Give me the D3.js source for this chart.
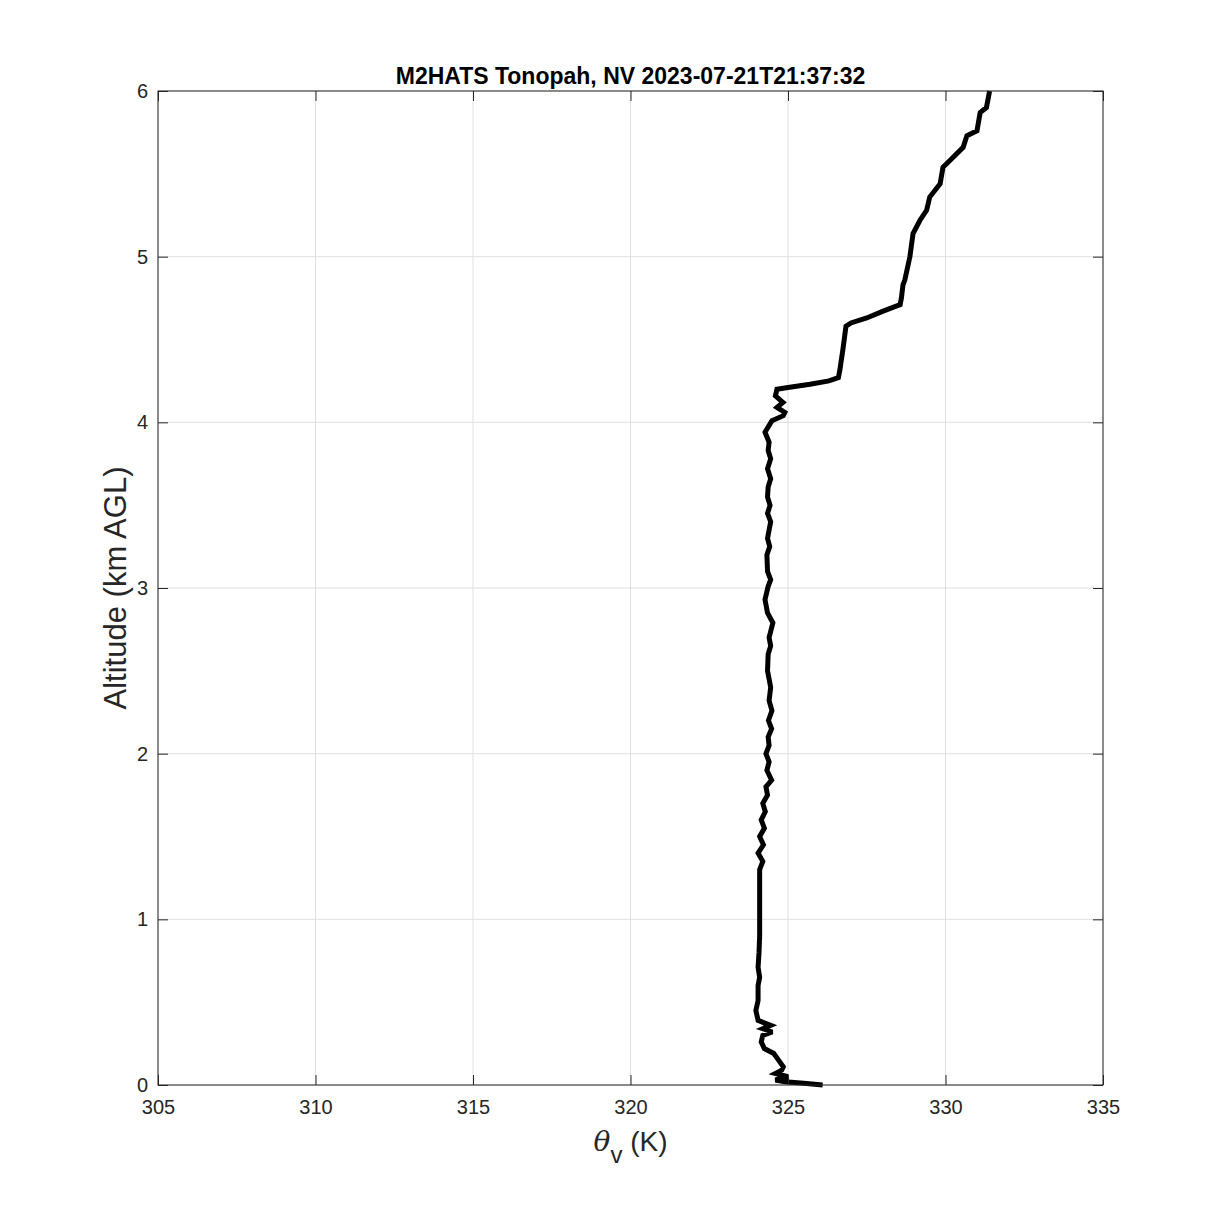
<!DOCTYPE html>
<html>
<head>
<meta charset="utf-8">
<script src="https://cdn.jsdelivr.net/npm/d3@7"></script>
<style>
    body { margin: 0; background: #fff; }
    text { font-family: "Liberation Sans", Arial, Helvetica, sans-serif; }
</style>
</head>
<body>
<div id="chart"></div>
<script>
// sounding profile: altitude (km AGL) and theta_v (K)
const altitude = [
    0.00, 0.01, 0.02, 0.03, 0.05, 0.07, 0.09, 0.11, 0.15, 0.19,
    0.22, 0.26, 0.30, 0.32, 0.34, 0.36, 0.39, 0.45, 0.51, 0.60,
    0.65, 0.71, 0.80, 0.90, 1.01, 1.10, 1.20, 1.30, 1.35, 1.40,
    1.45, 1.50, 1.55, 1.60, 1.65, 1.70, 1.75, 1.80, 1.84, 1.90,
    1.95, 2.00, 2.05, 2.10, 2.15, 2.20, 2.26, 2.32, 2.40, 2.50,
    2.60, 2.65, 2.70, 2.79, 2.85, 2.93, 3.01, 3.05, 3.10, 3.20,
    3.25, 3.30, 3.40, 3.45, 3.50, 3.55, 3.61, 3.66, 3.72, 3.78,
    3.83, 3.88, 3.94, 4.01, 4.04, 4.06, 4.09, 4.12, 4.16, 4.20,
    4.21, 4.23, 4.25, 4.27, 4.32, 4.45, 4.58, 4.60, 4.63, 4.67,
    4.71, 4.75, 4.83, 4.86, 5.00, 5.14, 5.22, 5.28, 5.36, 5.44,
    5.54, 5.58, 5.66, 5.73, 5.76, 5.87, 5.90, 6.00
];
const thetaV = [
    326.10, 325.50, 324.90, 324.60, 325.00, 324.60, 324.80, 324.85, 324.70, 324.55,
    324.25, 324.15, 324.20, 324.50, 324.20, 324.45, 324.05, 323.98, 324.05, 324.05,
    324.10, 324.05, 324.08, 324.10, 324.10, 324.10, 324.10, 324.10, 324.20, 324.05,
    324.22, 324.10, 324.25, 324.15, 324.28, 324.20, 324.35, 324.30, 324.48, 324.33,
    324.40, 324.30, 324.40, 324.37, 324.48, 324.38, 324.49, 324.40, 324.45, 324.35,
    324.37, 324.45, 324.40, 324.52, 324.35, 324.27, 324.37, 324.45, 324.35, 324.33,
    324.42, 324.35, 324.45, 324.35, 324.43, 324.35, 324.37, 324.45, 324.35, 324.45,
    324.37, 324.40, 324.27, 324.49, 324.85, 324.90, 324.65, 324.84, 324.60, 324.65,
    325.00, 325.70, 326.30, 326.60, 326.65, 326.75, 326.84, 327.00, 327.50, 328.00,
    328.56, 328.60, 328.65, 328.71, 328.87, 328.97, 329.19, 329.40, 329.50, 329.83,
    329.92, 330.14, 330.56, 330.68, 331.00, 331.10, 331.30, 331.40
];
const xTicks = [305, 310, 315, 320, 325, 330, 335];
const yTicks = [0, 1, 2, 3, 4, 5, 6];
const title = "M2HATS Tonopah, NV 2023-07-21T21:37:32";

const margin = { top: 91, right: 116, bottom: 134, left: 158 };
const width = 1219 - margin.left - margin.right;
const height = 1219 - margin.top - margin.bottom;
const axisColor = "#262626";
const tickLen = 10;

const svg = d3
    .select("#chart")
    .append("svg")
    .attr("width", 1219)
    .attr("height", 1219);

const g = svg
    .append("g")
    .attr("transform", `translate(${margin.left}, ${margin.top})`);

const xScale = d3.scaleLinear().domain([305, 335]).range([0, width]);
const yScale = d3.scaleLinear().domain([0, 6]).range([height, 0]);

// grid
g.append("g")
    .selectAll("line")
    .data(xTicks)
    .enter()
    .append("line")
    .attr("x1", d => xScale(d))
    .attr("x2", d => xScale(d))
    .attr("y1", 0)
    .attr("y2", height)
    .attr("stroke", "#dfdfdf")
    .attr("stroke-width", 1);

g.append("g")
    .selectAll("line")
    .data(yTicks)
    .enter()
    .append("line")
    .attr("x1", 0)
    .attr("x2", width)
    .attr("y1", d => yScale(d))
    .attr("y2", d => yScale(d))
    .attr("stroke", "#dfdfdf")
    .attr("stroke-width", 1);

// profile
const points = altitude.map((a, i) => [thetaV[i], a]);
const line = d3
    .line()
    .x(d => xScale(d[0]))
    .y(d => yScale(d[1]));

g.append("path")
    .datum(points)
    .attr("d", line)
    .attr("fill", "none")
    .attr("stroke", "#000")
    .attr("stroke-width", 5)
    .attr("stroke-linejoin", "miter")
    .attr("stroke-miterlimit", 3);

// axes (ticks inward, box on all sides)
const xAxis = d3.axisBottom(xScale).tickValues(xTicks).tickSize(-tickLen).tickPadding(15);
const yAxis = d3.axisLeft(yScale).tickValues(yTicks).tickSize(-tickLen).tickPadding(10)
    .tickFormat(d3.format("d"));
const xTop = d3.axisTop(xScale).tickValues(xTicks).tickSize(-tickLen).tickFormat("");
const yRight = d3.axisRight(yScale).tickValues(yTicks).tickSize(-tickLen).tickFormat("");

const styleAxis = sel => {
    sel.selectAll("path").attr("stroke", axisColor).attr("stroke-width", 1);
    sel.selectAll("line").attr("stroke", axisColor).attr("stroke-width", 1);
    sel.selectAll("text")
        .attr("fill", axisColor)
        .style("font-size", "20px")
        .style("font-family", "'Liberation Sans', Arial, sans-serif");
};

g.append("g").attr("transform", `translate(0, ${height})`).call(xAxis).call(styleAxis);
g.append("g").call(yAxis).call(styleAxis);
g.append("g").call(xTop).call(styleAxis);
g.append("g").attr("transform", `translate(${width}, 0)`).call(yRight).call(styleAxis);

g.selectAll(".domain").attr("d", null);
g.append("rect")
    .attr("width", width)
    .attr("height", height)
    .attr("fill", "none")
    .attr("stroke", axisColor)
    .attr("stroke-width", 1);

// title
svg.append("text")
    .attr("x", margin.left + width / 2)
    .attr("y", 84)
    .attr("text-anchor", "middle")
    .style("font-size", "23px")
    .style("font-weight", "bold")
    .attr("fill", "#000")
    .text(title);

// x label
const xl = svg
    .append("text")
    .attr("x", margin.left + width / 2)
    .attr("y", 1151)
    .attr("text-anchor", "middle")
    .attr("fill", axisColor)
    .style("font-size", "28px");
xl.append("tspan").style("font-style", "italic").style("font-family", "'DejaVu Serif', serif").text("θ");
xl.append("tspan").attr("dy", 12).style("font-size", "24px").text("v");
xl.append("tspan").attr("dy", -12).text(" (K)");

// y label
svg.append("text")
    .attr("transform", `translate(126, ${margin.top + height / 2}) rotate(-90)`)
    .attr("text-anchor", "middle")
    .attr("fill", axisColor)
    .style("font-size", "31px")
    .text("Altitude (km AGL)");
</script>
</body>
</html>
